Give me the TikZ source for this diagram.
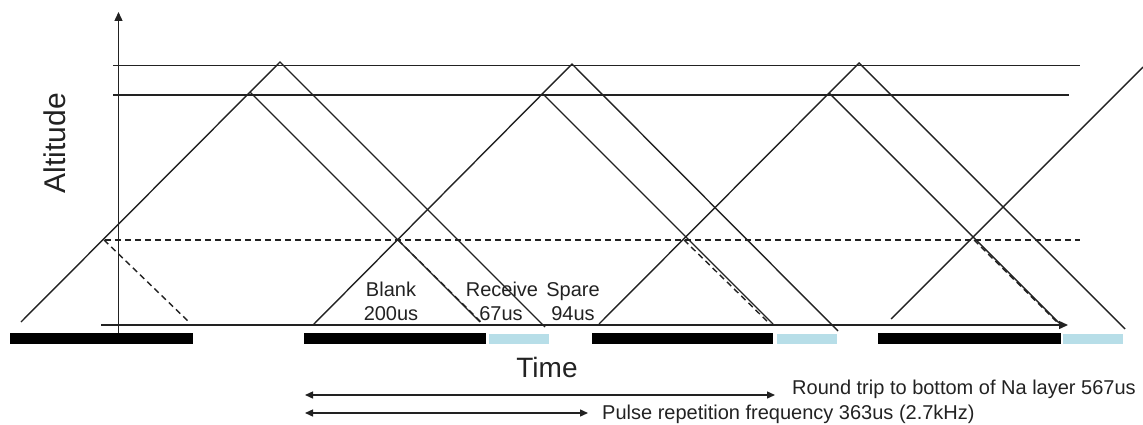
\documentclass[tikz,border=0pt]{standalone}
\usepackage{fontspec}
\setmainfont{Liberation Sans}
\usetikzlibrary{arrows.meta}
\definecolor{ink}{HTML}{222222}
\definecolor{aqua}{HTML}{B7DEE8}
\tikzset{
  ln/.style={draw=ink, line width=1.4pt},
  dsh/.style={draw=ink, line width=1.4pt, dash pattern=on 6pt off 4pt},
  blackbar/.style={fill=black, draw=none},
  aquabar/.style={fill=aqua, draw=none},
  lbl/.style={text=ink, inner sep=0pt, font=\fontsize{20}{24}\selectfont, anchor=base},
  dim/.style={draw=ink, line width=1.4pt, {Triangle[length=8pt,width=7pt]}-{Triangle[length=8pt,width=7pt]}}
}
\begin{document}
\begin{tikzpicture}[x=1pt,y=-1pt]
\useasboundingbox (0,0) rectangle (1143,425);
% horizontal reference lines
\coordinate (top1a) at (113,65.5); \coordinate (top1b) at (1080,65.5);
\coordinate (top2a) at (113,95); \coordinate (top2b) at (1069,95);
\coordinate (da) at (105,240); \coordinate (db) at (1080,240);
\draw[ln] (top1a) -- (top1b);
\draw[ln] (top2a) -- (top2b);
\draw[dsh] (da) -- (db);
% axes
\coordinate (yb) at (118.5,334); \coordinate (yt) at (118.5,12);
\coordinate (xa) at (101,325); \coordinate (xb) at (1068,325);
\draw[ln, -{Triangle[length=9pt,width=8pt]}] (yb) -- (yt);
\draw[ln, -{Triangle[length=9pt,width=8pt]}] (xa) -- (xb);
% pulse 1
\coordinate (p1s) at (21,322); \coordinate (p1a) at (280,62); \coordinate (p1e) at (545,327);
\coordinate (p1i) at (250,92); \coordinate (p1j) at (480,322);
\coordinate (p1d) at (104,240); \coordinate (p1f) at (190,323);
\draw[ln] (p1s) -- (p1a) -- (p1e);
\draw[ln] (p1i) -- (p1j);
\draw[dsh] (p1d) -- (p1f);
% pulse 2
\coordinate (p2s) at (313,325); \coordinate (p2a) at (572,64); \coordinate (p2e) at (838,331);
\coordinate (p2i) at (543,94); \coordinate (p2j) at (773,324);
\coordinate (p2d) at (398,240); \coordinate (p2f) at (481,322);
\draw[ln] (p2s) -- (p2a) -- (p2e);
\draw[ln] (p2i) -- (p2j);
\draw[dsh] (p2d) -- (p2f);
% pulse 3
\coordinate (p3s) at (599,324); \coordinate (p3a) at (859,63); \coordinate (p3e) at (1125,329);
\coordinate (p3i) at (829,93); \coordinate (p3j) at (1059,323);
\coordinate (p3d) at (684,240); \coordinate (p3f) at (770,324);
\draw[ln] (p3s) -- (p3a) -- (p3e);
\draw[ln] (p3i) -- (p3j);
\draw[dsh] (p3d) -- (p3f);
% pulse 4
\coordinate (p4s) at (891,319); \coordinate (p4a) at (1143,67);
\coordinate (p4d) at (974,240); \coordinate (p4f) at (1058,323);
\draw[ln] (p4s) -- (p4a);
\draw[dsh] (p4d) -- (p4f);
% bars
\fill[blackbar] (10,333) rectangle (193,344);
\fill[blackbar] (304,333) rectangle (486,344);
\fill[aquabar] (489,334) rectangle (549,344);
\fill[blackbar] (592,333) rectangle (773,344);
\fill[aquabar] (777,334) rectangle (837,344);
\fill[blackbar] (878,333) rectangle (1061,344);
\fill[aquabar] (1063,334) rectangle (1123,344);
% labels
\node[text=ink, inner sep=0pt, rotate=90, font=\fontsize{30}{36}\selectfont] (alt) at (55,143) {Altitude};
\node[text=ink, inner sep=0pt, font=\fontsize{28}{34}\selectfont] (time) at (547,367) {Time};
\node[lbl] (blank) at (391,296) {Blank};
\node[lbl] (blankt) at (391,320) {200us};
\node[lbl] (rec) at (502,296) {Receive};
\node[lbl] (rect) at (501,320) {67us};
\node[lbl] (spare) at (573,296) {Spare};
\node[lbl] (sparet) at (573,320) {94us};
% dimension arrows
\coordinate (r1) at (305,395); \coordinate (r2) at (775,395);
\coordinate (q1) at (305,413); \coordinate (q2) at (588,413);
\draw[dim] (r1) -- (r2);
\draw[dim] (q1) -- (q2);
\node[lbl, anchor=base west] (rt) at (792,394) {Round trip to bottom of Na layer 567us};
\node[lbl, anchor=base west] (prf) at (602,419) {Pulse repetition frequency 363us (2.7kHz)};
\end{tikzpicture}
\end{document}
